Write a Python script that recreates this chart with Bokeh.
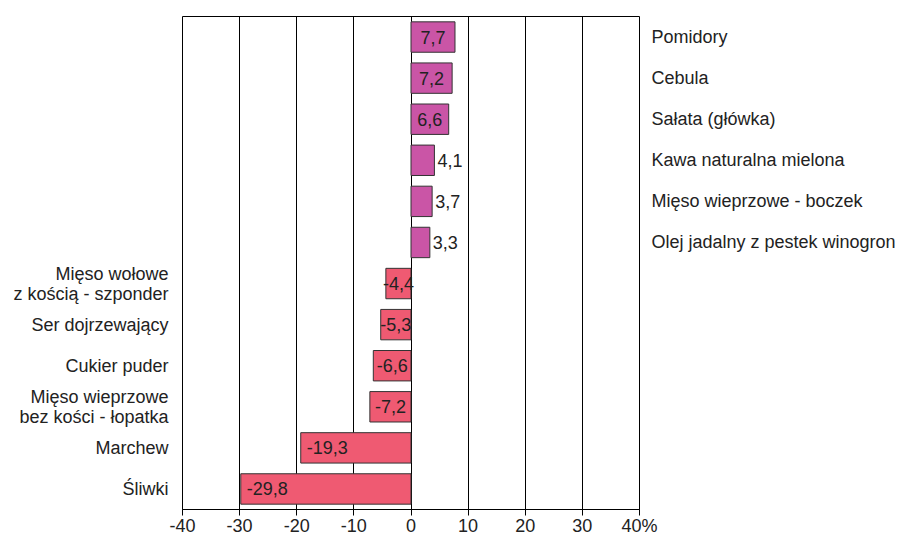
from bokeh.plotting import figure
from bokeh.models import Range1d, FixedTicker, ColumnDataSource, LinearAxis
from bokeh.core.properties import value
from bokeh.embed import file_html
from bokeh.resources import INLINE

categories = [
    "Pomidory", "Cebula", "Sałata (główka)", "Kawa naturalna mielona",
    "Mięso wieprzowe - boczek", "Olej jadalny z pestek winogron",
    "Mięso wołowe\nz kością - szponder", "Ser dojrzewający", "Cukier puder",
    "Mięso wieprzowe\nbez kości - łopatka", "Marchew", "Śliwki",
]
values = [7.7, 7.2, 6.6, 4.1, 3.7, 3.3, -4.4, -5.3, -6.6, -7.2, -19.3, -29.8]
x_ticks = [-40, -30, -20, -10, 0, 10, 20, 30, 40]
x_tick_labels = ["-40", "-30", "-20", "-10", "0", "10", "20", "30", "40%"]

POS = "#CA55A6"
NEG = "#EF5A72"
FONT = "Liberation Sans"
TXT = "#222222"
FS = "18px"

n = len(categories)
idx = list(range(n))
fmt = [f"{v:.1f}".replace(".", ",") for v in values]

p = figure(width=900, height=538, x_range=Range1d(-40, 40),
           y_range=Range1d(n - 0.5, -0.5),
           output_backend="svg", toolbar_location=None, y_axis_location=None,
           min_border_left=182, min_border_right=261, min_border_top=16,
           min_border_bottom=0)
p.background_fill_color = "white"
p.border_fill_color = "white"
p.outline_line_color = "black"
p.outline_line_width = 1

p.xgrid.ticker = FixedTicker(ticks=x_ticks)
p.xgrid.grid_line_color = "black"
p.xgrid.grid_line_width = 1
p.ygrid.visible = False

ax = p.xaxis[0]
ax.ticker = FixedTicker(ticks=x_ticks)
ax.major_label_overrides = dict(zip(x_ticks, x_tick_labels))
ax.major_tick_in = 0
ax.major_tick_out = 6
ax.minor_tick_line_color = None
ax.axis_line_color = "black"
ax.major_tick_line_color = "black"
ax.major_label_text_font = FONT
ax.major_label_text_font_size = FS
ax.major_label_text_color = TXT
ax.major_label_standoff = 0

# category labels on side axes
left_over = {i: (c if v < 0 else "") for i, (c, v) in enumerate(zip(categories, values))}
right_over = {i: (c if v > 0 else "") for i, (c, v) in enumerate(zip(categories, values))}
for loc, over, standoff in (("left", left_over, 14), ("right", right_over, 12)):
    a = LinearAxis(ticker=FixedTicker(ticks=idx), major_label_overrides=over)
    a.axis_line_color = None
    a.major_tick_line_color = None
    a.minor_tick_line_color = None
    a.major_tick_in = 0
    a.major_tick_out = 0
    a.minor_tick_in = 0
    a.minor_tick_out = 0
    a.major_label_standoff = standoff
    a.major_label_text_font = FONT
    a.major_label_text_font_size = FS
    a.major_label_text_color = TXT
    a.major_label_text_line_height = 1.0
    p.add_layout(a, loc)

src = ColumnDataSource(dict(y=idx, right=values,
                            color=[POS if v > 0 else NEG for v in values]))
p.hbar(y="y", left=0, right="right", height=0.74, fill_color="color",
       line_color="#333333", line_width=1, source=src)

# value labels
centered = [i for i, v in enumerate(values) if v > 5 or (-10 < v < 0)]
outside = [i for i, v in enumerate(values) if 0 < v <= 5]
inside_left = [i for i, v in enumerate(values) if v <= -10]

common = dict(text_font=value(FONT), text_font_size=FS, text_color=TXT,
              text_baseline="middle")
p.text(x=[values[i] / 2 for i in centered], y=[idx[i] for i in centered],
       text=[fmt[i] for i in centered], text_align="center", **common)
p.text(x=[values[i] for i in outside], y=[idx[i] for i in outside],
       text=[fmt[i] for i in outside], text_align="left", x_offset=3, **common)
p.text(x=[values[i] for i in inside_left], y=[idx[i] for i in inside_left],
       text=[fmt[i] for i in inside_left], text_align="left", x_offset=6, **common)

open("out.html", "w").write(file_html(p, INLINE))
